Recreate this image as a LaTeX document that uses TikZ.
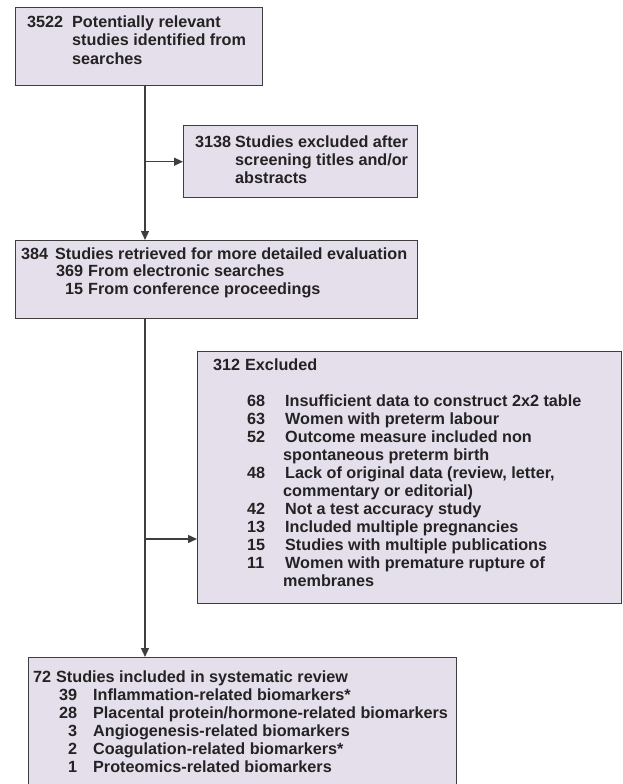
\documentclass[tikz,border=0pt]{standalone}
\usepackage{fontspec}
\setmainfont{Liberation Sans}
\usetikzlibrary{arrows.meta}
\definecolor{boxfill}{RGB}{229,223,235}
\definecolor{boxline}{RGB}{62,62,62}
\definecolor{txtcol}{RGB}{35,35,35}

\begin{document}
\begin{tikzpicture}[x=1pt, y=-1pt,
  every node/.style={inner sep=0pt, font=\fontsize{16.2}{18}\selectfont\bfseries, text=txtcol},
  box/.style n args={2}{draw=boxline, fill=boxfill, line width=1.4pt, anchor=north west, minimum width=#1, minimum height=#2},
  txt/.style={anchor=base west},
  conn/.style={draw=boxline, line width=1.4pt, -{Triangle[length=9pt,width=8pt]}}]
  \useasboundingbox (0,0) rectangle (622,784);

  % boxes
  \node[box={247}{78}]  (b1) at (15,7) {};
  \node[box={234}{72}]  (b2) at (183,125) {};
  \node[box={402}{78}]  (b3) at (15,240) {};
  \node[box={424}{252}] (b4) at (197,351) {};
  \node[box={428}{140}] (b5) at (28,657) {};

  % texts
  \node[txt] (t1) at ([shift={(12,21)}]b1.north west) {\begin{tabular}[t]{@{}l@{}}
    \makebox[45pt][l]{3522}Potentially relevant\\
    \hspace{45pt}studies identified from\\
    \hspace{45pt}searches\end{tabular}};
  \node[txt] (t2) at ([shift={(12,22)}]b2.north west) {\begin{tabular}[t]{@{}l@{}}
    \makebox[40pt][l]{3138}Studies excluded after\\
    \hspace{40pt}screening titles and/or\\
    \hspace{40pt}abstracts\end{tabular}};
  \node[txt] (t3) at ([shift={(6,19)}]b3.north west) {\fontsize{16.2}{17.5}\selectfont\begin{tabular}[t]{@{}l@{}}
    \makebox[34pt][l]{384}Studies retrieved for more detailed evaluation\\
    \makebox[62pt][r]{369}\hspace{5pt}From electronic searches\\
    \makebox[62pt][r]{15}\hspace{5pt}From conference proceedings\end{tabular}};
  \node[txt] (t4) at ([shift={(16,19)}]b4.north west) {\begin{tabular}[t]{@{}l@{}}
    \makebox[32pt][l]{312}Excluded\\
    \\
    \hspace{34pt}\makebox[38pt][l]{68}Insufficient data to construct 2x2 table\\
    \hspace{34pt}\makebox[38pt][l]{63}Women with preterm labour\\
    \hspace{34pt}\makebox[38pt][l]{52}Outcome measure included non\\
    \hspace{70pt}spontaneous preterm birth\\
    \hspace{34pt}\makebox[38pt][l]{48}Lack of original data (review, letter,\\
    \hspace{70pt}commentary or editorial)\\
    \hspace{34pt}\makebox[38pt][l]{42}Not a test accuracy study\\
    \hspace{34pt}\makebox[38pt][l]{13}Included multiple pregnancies\\
    \hspace{34pt}\makebox[38pt][l]{15}Studies with multiple publications\\
    \hspace{34pt}\makebox[38pt][l]{11}Women with premature rupture of\\
    \hspace{70pt}membranes\end{tabular}};
  \node[txt] (t5) at ([shift={(5,25)}]b5.north west) {\begin{tabular}[t]{@{}l@{}}
    \makebox[23pt][l]{72}Studies included in systematic review\\
    \makebox[44pt][r]{39}\hspace{16pt}Inflammation-related biomarkers*\\
    \makebox[44pt][r]{28}\hspace{16pt}Placental protein/hormone-related biomarkers\\
    \makebox[44pt][r]{3}\hspace{16pt}Angiogenesis-related biomarkers\\
    \makebox[44pt][r]{2}\hspace{16pt}Coagulation-related biomarkers*\\
    \makebox[44pt][r]{1}\hspace{16pt}Proteomics-related biomarkers\end{tabular}};

  % connectors
  \coordinate (trunk) at (145,0);
  \coordinate (j4) at (145,539);
  \draw[conn] (b1.south -| trunk) -- (b3.north -| trunk);
  \draw[conn] (b2.west -| trunk) -- (b2.west);
  \draw[conn] (b3.south -| trunk) -- (b5.north -| trunk);
  \draw[conn] (j4) -- (j4 -| b4.west);
\end{tikzpicture}
\end{document}
